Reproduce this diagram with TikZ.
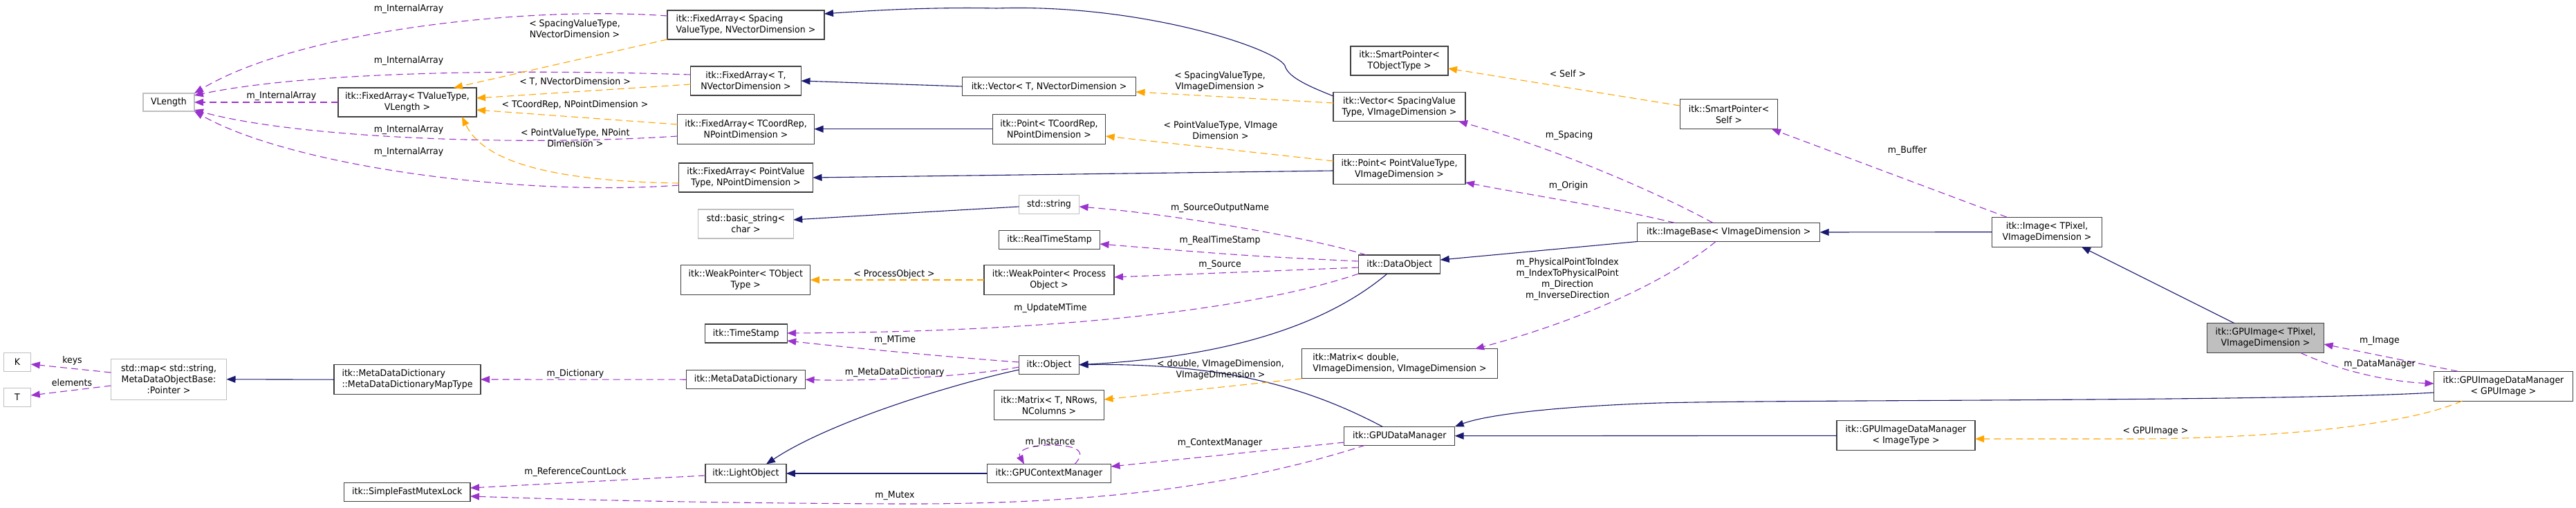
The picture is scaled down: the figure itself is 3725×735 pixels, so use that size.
\documentclass[tikz,border=0pt]{standalone}
\usepackage{fontspec}
\setmainfont[FakeStretch=0.94]{DejaVu Sans}
\usetikzlibrary{arrows.meta,calc}
\definecolor{dxpurple}{HTML}{9A32CD}
\definecolor{dxblue}{HTML}{191970}
\definecolor{dxorange}{HTML}{FFA500}
\definecolor{dxborder}{HTML}{404040}
\definecolor{dxgrey}{HTML}{BFBFBF}
\definecolor{dxhl}{HTML}{BFBFBF}
\tikzset{
  box/.style={draw=dxborder, line width=1.3pt, fill=white, inner sep=1pt, outer sep=0pt, align=center},
  gbox/.style={box, draw=dxgrey},
  tipd/.style={-{Triangle[length=13pt,width=10pt]}},
  use/.style={tipd, draw=dxpurple, line width=1.1pt, dash pattern=on 10pt off 6pt},
  inh/.style={tipd, draw=dxblue, line width=1.1pt},
  tpl/.style={tipd, draw=dxorange, line width=1.1pt, dash pattern=on 10pt off 6pt},
  lbl/.style={inner sep=0pt, align=center},
}
\begin{document}
\begin{tikzpicture}[x=1pt, y=-1pt, font=\fontsize{13.33}{16}\selectfont]
\useasboundingbox[fill=white] (0,0) rectangle (3725,735);

% ---- nodes ----
\node[gbox, minimum width=74pt, minimum height=26pt] (vlen) at (244,148) {VLength};
\node[box, minimum width=200pt, minimum height=42pt] (faT) at (589,148) {itk::FixedArray< TValueType,\\VLength >};
\node[box, align=left, minimum width=227pt, minimum height=42pt] (faS) at (1078.5,36) {itk::FixedArray< Spacing\\ValueType, NVectorDimension >};
\node[box, minimum width=160pt, minimum height=42pt] (faTN) at (1078.5,117) {itk::FixedArray< T,\\NVectorDimension >};
\node[box, minimum width=198pt, minimum height=43pt] (faTC) at (1078.5,186.7) {itk::FixedArray< TCoordRep,\\NPointDimension >};
\node[box, minimum width=194pt, minimum height=42pt] (faPV) at (1078.5,257) {itk::FixedArray< PointValue\\Type, NPointDimension >};
\node[gbox, minimum width=137.5pt, minimum height=42pt] (bstr) at (1078.5,324) {std::basic\_string<\\char >};
\node[box, minimum width=187pt, minimum height=43pt] (wpTO) at (1078.3,405) {itk::WeakPointer< TObject\\Type >};
\node[box, minimum width=119pt, minimum height=27pt] (ts) at (1078.7,482.5) {itk::TimeStamp};
\node[box, minimum width=172pt, minimum height=27pt] (mdd) at (1078.5,549.2) {itk::MetaDataDictionary};
\node[box, minimum width=117pt, minimum height=27pt] (lo) at (1078.4,685) {itk::LightObject};

\node[box, minimum width=251pt, minimum height=27pt] (vecT) at (1517,125) {itk::Vector< T, NVectorDimension >};
\node[box, minimum width=163.5pt, minimum height=43pt] (ptTC) at (1517,186.7) {itk::Point< TCoordRep,\\NPointDimension >};
\node[gbox, minimum width=87pt, minimum height=27pt] (stdstr) at (1517,296) {std::string};
\node[box, minimum width=146pt, minimum height=27pt] (rts) at (1517.5,346.7) {itk::RealTimeStamp};
\node[box, minimum width=188pt, minimum height=43pt] (wpPO) at (1517,405) {itk::WeakPointer< Process\\Object >};
\node[box, minimum width=87pt, minimum height=27pt] (obj) at (1517,527.7) {itk::Object};
\node[box, minimum width=159pt, minimum height=43pt] (matT) at (1517,586.3) {itk::Matrix< T, NRows,\\NColumns >};
\node[box, minimum width=179pt, minimum height=27pt] (gcm) at (1517,685) {itk::GPUContextManager};

\node[box, minimum width=141pt, minimum height=42pt] (spTO) at (2023.5,88) {itk::SmartPointer<\\TObjectType >};
\node[box, minimum width=191pt, minimum height=42pt] (vecS) at (2023.5,154.5) {itk::Vector< SpacingValue\\Type, VImageDimension >};
\node[box, minimum width=191pt, minimum height=43pt] (ptPV) at (2023.5,245.3) {itk::Point< PointValueType,\\VImageDimension >};
\node[box, minimum width=118pt, minimum height=27pt] (dobj) at (2023.7,382.5) {itk::DataObject};
\node[box, align=left, minimum width=283pt, minimum height=43pt] (matD) at (2024,526.3) {itk::Matrix< double,\\VImageDimension, VImageDimension >};
\node[box, minimum width=160pt, minimum height=27pt] (gdm) at (2023.7,630.7) {itk::GPUDataManager};

\node[box, minimum width=141pt, minimum height=43pt] (spS) at (2500,165.3) {itk::SmartPointer<\\Self >};
\node[box, minimum width=264pt, minimum height=27pt] (ib) at (2499.7,336) {itk::ImageBase< VImageDimension >};
\node[box, minimum width=200pt, minimum height=43pt] (gidmT) at (2756,630.3) {itk::GPUImageDataManager\\< ImageType >};
\node[box, minimum width=159pt, minimum height=43pt] (img) at (2960,335.7) {itk::Image< TPixel,\\VImageDimension >};
\node[box, fill=dxhl, minimum width=169pt, minimum height=43pt] (gimg) at (3276,489.2) {itk::GPUImage< TPixel,\\VImageDimension >};
\node[box, minimum width=201pt, minimum height=43pt] (gidmG) at (3620,558.7) {itk::GPUImageDataManager\\< GPUImage >};

\node[gbox, minimum width=39.4pt, minimum height=26.6pt] (K) at (25,524) {K};
\node[gbox, minimum width=39.4pt, minimum height=26.6pt] (T) at (25,575) {T};
\node[gbox, minimum width=167pt, minimum height=59pt] (smap) at (244,548.8) {std::map< std::string,\\MetaDataObjectBase:\\:Pointer >};
\node[box, align=left, minimum width=212pt, minimum height=43pt] (mdmt) at (589,549.2) {itk::MetaDataDictionary\\::MetaDataDictionaryMapType};
\node[box, minimum width=182.6pt, minimum height=27pt] (sfml) at (588.7,711.7) {itk::SimpleFastMutexLock};

% ---- usage edges to VLength ----
\draw[use] (faS.west |- 0,23) .. controls (760,8) and (430,45) .. (vlen.north east);
\draw[use] (faTN.west |- 0,108) .. controls (750,100) and (450,103) .. (vlen.east |- 0,138);
\draw[use] (faT.west) -- (vlen.east);
\draw[use] (faTC.west |- 0,197) .. controls (750,212) and (430,200) .. (vlen.east |- 0,159);
\draw[use] (faPV.west |- 0,268) .. controls (750,285) and (420,240) .. (vlen.south east);

% ---- template edges to FixedArray<TValueType,VLength> ----
\draw[tpl] (faS.south west) -- (faT.north -| 656,0);
\draw[tpl] (faTN.west |- 0,122) -- (faT.east |- 0,142);
\draw[tpl] (faTC.west |- 0,180) -- (faT.east |- 0,159);
\draw[tpl] (faPV.west |- 0,265) .. controls (800,262) and (700,235) .. (faT.south -| 668,0);

% ---- inheritance ----
\draw[inh] (vecS.west |- 0,139) .. controls (1885,122) and (1862,110) .. (1858,95)
  .. controls (1845,70) and (1650,5) .. (1441,12)
  .. controls (1350,10) and (1260,15) .. (faS.east |- 0,20);
\draw[inh] (vecT.west) -- (faTN.east);
\draw[inh] (ptTC.west) -- (faTC.east);
\draw[inh] (ptPV.west |- 0,247) -- (faPV.east);
\draw[inh] (stdstr.west |- 0,299) .. controls (1350,306) .. (bstr.east |- 0,318);
\draw[inh] (ib.south west) -- (dobj.east |- 0,376);
\draw[inh] (img.west) -- (ib.east);
\draw[inh] (gimg.north -| 3231,0) -- (img.south -| 3010,0);
\draw[inh] (dobj.south -| 2006,0) .. controls (1930,460) and (1800,515) .. (obj.east);
\draw[inh] (gdm.north -| 1999,0) .. controls (1900,565) and (1780,525) .. (obj.east);
\draw[inh] (obj.west |- 0,535) .. controls (1380,555) and (1200,610) .. (lo.north -| 1108,0);
\draw[inh] (gcm.west) -- (lo.east);
\draw[inh] (mdmt.west) -- (smap.east);
\draw[inh] (gidmG.west |- 0,568) .. controls (3300,581) and (2600,578) .. (2400,583)
  .. controls (2250,588) and (2150,600) .. (gdm.north east);
\draw[inh] (gidmT.west) -- (gdm.east);

% ---- usage ----
\draw[use] (img.north -| 2902,0) -- (spS.south -| 2562,0);
\draw[use] (ib.north -| 2477,0) .. controls (2400,280) and (2250,215) .. (vecS.south -| 2109,0);
\draw[use] (ib.north -| 2422,0) .. controls (2330,300) and (2200,280) .. (ptPV.east |- 0,264);
\draw[use] (ib.south -| 2481,0) .. controls (2420,400) and (2300,460) .. (matD.north -| 2133,0);
\draw[use] (dobj.north -| 1976,0) .. controls (1900,345) and (1700,310) .. (stdstr.east |- 0,299);
\draw[use] (dobj.west |- 0,378) .. controls (1800,370) .. (rts.east |- 0,353);
\draw[use] (dobj.west |- 0,387) -- (wpPO.east |- 0,401);
\draw[use] (dobj.south west) .. controls (1820,445) and (1550,480) .. (ts.east |- 0,482);
\draw[use] (obj.west |- 0,524) .. controls (1350,515) and (1200,500) .. (ts.east |- 0,493);
\draw[use] (obj.west |- 0,531) .. controls (1400,545) and (1250,552) .. (mdd.east);
\draw[use] (mdd.west) -- (mdmt.east |- 0,549);
\draw[use] (lo.west |- 0,688) -- (sfml.east |- 0,706);
\draw[use] (gdm.south -| 1974,0) .. controls (1800,700) and (1600,730) .. (1300,729)
  .. controls (1000,728) and (800,722) .. (sfml.east |- 0,718);
\draw[use] (gdm.west |- 0,640) -- (gcm.east |- 0,675);
\draw[use] (gcm.north -| 1554,0) .. controls (1575,650) and (1550,644) .. (1518,644)
  .. controls (1490,644) and (1470,652) .. (gcm.north -| 1481,0);
\draw[use] (gidmG.north -| 3554,0) -- (gimg.east |- 0,498);
\draw[use] (gimg.south -| 3327,0) .. controls (3380,535) and (3450,552) .. (gidmG.west |- 0,555);
\draw[use] (smap.west |- 0,539) -- (K.east |- 0,527);
\draw[use] (smap.west |- 0,558) -- (T.east |- 0,572);

% ---- template ----
\draw[tpl] (vecS.west |- 0,149) -- (vecT.east |- 0,133);
\draw[tpl] (ptPV.west |- 0,233) -- (ptTC.east |- 0,197);
\draw[tpl] (spS.west |- 0,153) -- (spTO.east |- 0,99);
\draw[tpl] (wpPO.west) -- (wpTO.east);
\draw[tpl] (matD.south west) -- (matT.east |- 0,578);
\draw[tpl] (gidmG.south -| 3560,0) .. controls (3480,615) and (3300,633) .. (3100,635) -- (gidmT.east |- 0,635);

% ---- labels ----
\node[lbl] (l1) at (591,13) {m\_InternalArray};
\node[lbl] (l2) at (591,88) {m\_InternalArray};
\node[lbl] (l3) at (407,139) {m\_InternalArray};
\node[lbl] (l4) at (591,188) {m\_InternalArray};
\node[lbl] (l5) at (591,220) {m\_InternalArray};
\node[lbl] (l6) at (831,42) {< SpacingValueType,\\NVectorDimension >};
\node[lbl] (l7) at (831.5,118) {< T, NVectorDimension >};
\node[lbl] (l8) at (831.5,152) {< TCoordRep, NPointDimension >};
\node[lbl] (l9) at (831.8,199.5) {< PointValueType, NPoint\\Dimension >};
\node[lbl] (l10) at (1764,118) {< SpacingValueType,\\VImageDimension >};
\node[lbl] (l11) at (1765,189) {< PointValueType, VImage\\Dimension >};
\node[lbl] (l12) at (1764,301) {m\_SourceOutputName};
\node[lbl] (l13) at (1764,348) {m\_RealTimeStamp};
\node[lbl] (l14) at (1764,383) {m\_Source};
\node[lbl] (l15) at (1519,446) {m\_UpdateMTime};
\node[lbl] (l16) at (1294,492) {m\_MTime};
\node[lbl] (l17) at (1293.7,539) {m\_MetaDataDictionary};
\node[lbl] (l18) at (1293,397) {< ProcessObject >};
\node[lbl] (l19) at (1765,535) {< double, VImageDimension,\\VImageDimension >};
\node[lbl] (l20) at (1518.6,640) {m\_Instance};
\node[lbl] (l21) at (1764,641) {m\_ContextManager};
\node[lbl] (l22) at (1294,717) {m\_Mutex};
\node[lbl] (l23) at (832,541) {m\_Dictionary};
\node[lbl] (l24) at (832,683) {m\_ReferenceCountLock};
\node[lbl] (l25) at (104.5,522) {keys};
\node[lbl] (l26) at (104,554) {elements};
\node[lbl] (l27) at (2267,107) {< Self >};
\node[lbl] (l28) at (2269,196) {m\_Spacing};
\node[lbl] (l29) at (2268,269) {m\_Origin};
\node[lbl] (l30) at (2266.6,403.7) {m\_PhysicalPointToIndex\\m\_IndexToPhysicalPoint\\m\_Direction\\m\_InverseDirection};
\node[lbl] (l31) at (2758,218) {m\_Buffer};
\node[lbl] (l32) at (3441,493) {m\_Image};
\node[lbl] (l33) at (3441,527) {m\_DataManager};
\node[lbl] (l34) at (3117,624) {< GPUImage >};
\end{tikzpicture}
\end{document}
